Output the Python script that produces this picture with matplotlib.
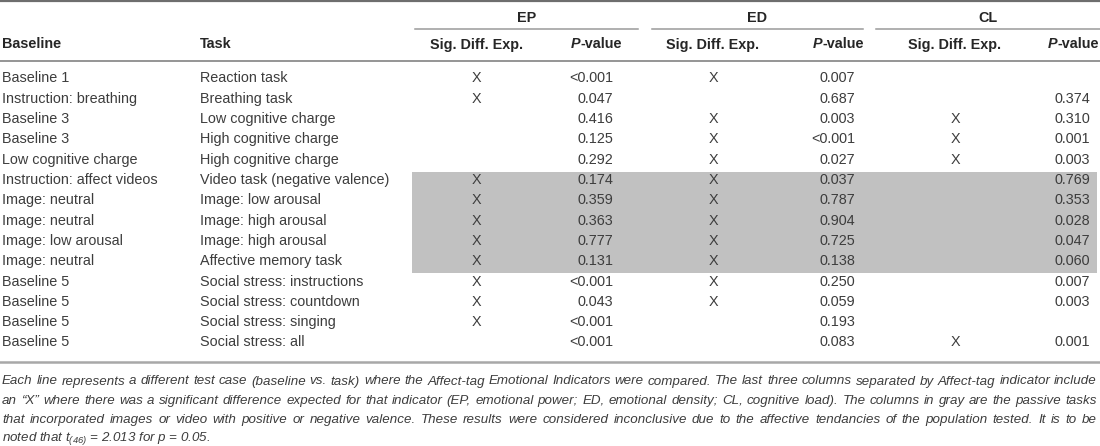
import numpy as np
import matplotlib
matplotlib.use("Agg")
from matplotlib import pyplot as plt
from matplotlib import font_manager
from matplotlib.patches import Rectangle

# table content
baselines = ["Baseline 1", "Instruction: breathing", "Baseline 3", "Baseline 3",
             "Low cognitive charge", "Instruction: affect videos", "Image: neutral",
             "Image: neutral", "Image: low arousal", "Image: neutral",
             "Baseline 5", "Baseline 5", "Baseline 5", "Baseline 5"]
tasks = ["Reaction task", "Breathing task", "Low cognitive charge", "High cognitive charge",
         "High cognitive charge", "Video task (negative valence)", "Image: low arousal",
         "Image: high arousal", "Image: high arousal", "Affective memory task",
         "Social stress: instructions", "Social stress: countdown",
         "Social stress: singing", "Social stress: all"]
ep_sig = ["X", "X", "", "", "", "X", "X", "X", "X", "X", "X", "X", "X", ""]
ep_p = ["<0.001", "0.047", "0.416", "0.125", "0.292", "0.174", "0.359", "0.363",
        "0.777", "0.131", "<0.001", "0.043", "<0.001", "<0.001"]
ed_sig = ["X", "", "X", "X", "X", "X", "X", "X", "X", "X", "X", "X", "", ""]
ed_p = ["0.007", "0.687", "0.003", "<0.001", "0.027", "0.037", "0.787", "0.904",
        "0.725", "0.138", "0.250", "0.059", "0.193", "0.083"]
cl_sig = ["", "", "X", "X", "X", "", "", "", "", "", "", "", "", "X"]
cl_p = ["", "0.374", "0.310", "0.001", "0.003", "0.769", "0.353", "0.028",
        "0.047", "0.060", "0.007", "0.003", "", "0.001"]
shaded_rows = [5, 6, 7, 8, 9]
groups = ["EP", "ED", "CL"]

footnote = [
    "Each line represents a different test case (baseline vs. task) where the Affect-tag "
    "Emotional Indicators were compared. The last three columns separated by Affect-tag indicator include",
    "an \u201cX\u201d where there was a significant difference expected for that indicator (EP, "
    "emotional power; ED, emotional density; CL, cognitive load). The columns in gray are the passive tasks",
    "that incorporated images or video with positive or negative valence. These results were "
    "considered inconclusive due to the affective tendancies of the population tested. It is to be",
    r"noted that $t_{(46)}$ = 2.013 for $p$ = 0.05.",
]

names = {f.name for f in font_manager.fontManager.ttflist}
body_font = "Liberation Sans"
foot_font = "Liberation Sans Narrow" if "Liberation Sans Narrow" in names else "Liberation Sans"
plt.rcParams["mathtext.fontset"] = "custom"
plt.rcParams["mathtext.it"] = foot_font + ":italic"
plt.rcParams["mathtext.rm"] = foot_font + ":italic"

fs = 10.4
txt_col = "#3d3d3d"
head_col = "#262626"

fig = plt.figure(figsize=(11, 4.46), dpi=100)
ax = fig.add_axes([0, 0, 1, 1])
ax.set_xlim(0, 1100)
ax.set_ylim(446, 0)
ax.axis("off")
renderer = fig.canvas.get_renderer()


def width(t):
    return t.get_window_extent(renderer).width


# layout (pixels)
row_top0 = 70.2
pitch = 20.3
base_off = 12.3
x_base, x_task = 2, 200
sig_x = [476, 713, 955]
p_right = [613, 855, 1090]
grp_span = [(415, 638), (652, 863), (876, 1100)]

# shaded block
top = row_top0 + pitch * min(shaded_rows)
bot = row_top0 + pitch * (max(shaded_rows) + 1)
ax.add_patch(Rectangle((412, top), 1097 - 412, bot - top, color="#c1c1c1", lw=0, zorder=0))

# rules
ax.plot([0, 1100], [1, 1], color="#6e6e6e", lw=1.6)
for a, b in grp_span:
    ax.plot([a, b], [29, 29], color="#9a9a9a", lw=1.1)
ax.plot([0, 1100], [61, 61], color="#8c8c8c", lw=1.3)
ax.plot([0, 1100], [362, 362], color="#a8a8a8", lw=1.8)

# headers
hkw = dict(fontsize=fs, fontweight="bold", color=head_col, family=body_font, va="baseline")
for g, (a, b) in zip(groups, grp_span):
    ax.text((a + b) / 2, 22, g, ha="center", **hkw)
ax.text(x_base, 48.5, "Baseline", ha="left", **hkw)
ax.text(x_task, 48.5, "Task", ha="left", **hkw)
for k in range(3):
    ax.text(sig_x[k], 48.5, "Sig. Diff. Exp.", ha="center", **hkw)
    t = ax.text(p_right[k] + 9, 48.5, "-value", ha="right", **hkw)
    ax.text(p_right[k] + 9 - width(t), 48.5, "P", ha="right", style="italic", **hkw)

# body
bkw = dict(fontsize=fs, color=txt_col, family=body_font, va="baseline")
sigs = [ep_sig, ed_sig, cl_sig]
pvals = [ep_p, ed_p, cl_p]
for i in range(len(baselines)):
    y = row_top0 + pitch * i + base_off
    ax.text(x_base, y, baselines[i], ha="left", **bkw)
    ax.text(x_task, y, tasks[i], ha="left", **bkw)
    for k in range(3):
        if sigs[k][i]:
            ax.text(sig_x[k], y, sigs[k][i], ha="center", **bkw)
        if pvals[k][i]:
            ax.text(p_right[k], y, pvals[k][i], ha="right", **bkw)

# footnote, justified like the journal layout
ffs = 10.2
fkw = dict(color=txt_col, family=foot_font, style="italic", va="baseline")
probe = ax.text(0, 500, footnote[0], fontsize=ffs, **fkw)
natural = max(width(probe), 1)
probe.remove()
left, right = 2, 1097
if natural > (right - left) * 0.985:
    ffs = ffs * (right - left) * 0.985 / natural
foot_y = [384.5, 403.8, 423.0, 440.5]
for j, line in enumerate(footnote):
    if j < len(footnote) - 1:
        words = line.split(" ")
        ts = [ax.text(0, foot_y[j], w, fontsize=ffs, **fkw) for w in words]
        ws = [width(t) for t in ts]
        gap = (right - left - sum(ws)) / (len(words) - 1)
        x = left
        for t, w in zip(ts, ws):
            t.set_x(x)
            x += w + gap
    else:
        ax.text(left, foot_y[j], line, fontsize=ffs, **fkw)

fig.savefig("out.png", dpi=100)
